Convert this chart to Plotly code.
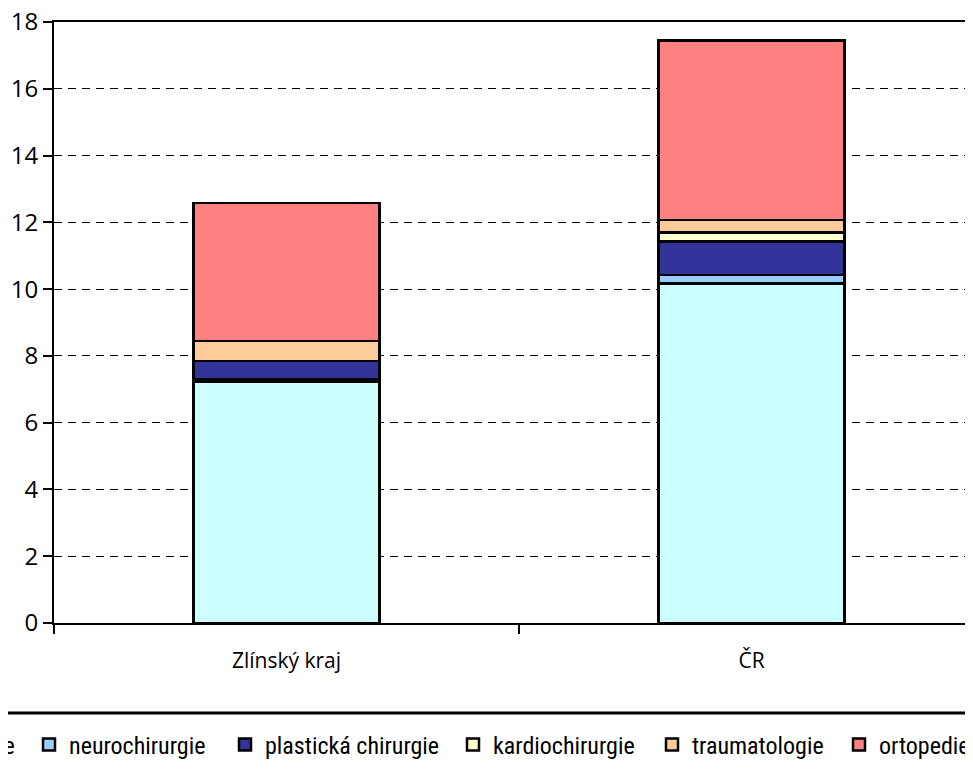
import plotly.graph_objects as go

categories = ["Zlínský kraj", "ČR"]
series_names = ["chirurgie", "neurochirurgie", "plastická chirurgie",
                "kardiochirurgie", "traumatologie", "ortopedie"]
chirurgie = [7.23, 10.17]
neurochirurgie = [0.06, 0.25]
plasticka_chirurgie = [0.56, 1.00]
kardiochirurgie = [0.0, 0.28]
traumatologie = [0.60, 0.37]
ortopedie = [4.13, 5.37]
y_ticks = [0, 2, 4, 6, 8, 10, 12, 14, 16, 18]

values = [chirurgie, neurochirurgie, plasticka_chirurgie,
          kardiochirurgie, traumatologie, ortopedie]
colors = ["#CCFFFF", "#99CCFF", "#333399", "#FFFFCC", "#FFCC99", "#FF8080"]

# page body adds an 8px offset; figure coords = screen coords - OFF
OFF = 8
W, H = 973 - OFF, 771 - OFF
ML, MT = 54 - OFF, 22 - OFF
MB = H - (623 - OFF)
MR = 0
PW = W - ML - MR
PH = H - MT - MB

def px_x(p):
    return (p - OFF - ML) / PW

def px_y(p):
    return 1 - (p - OFF - MT) / PH

# legend item left edges (screen pixels) for each entry
legend_left_px = [-108, 29, 225, 453, 652, 839]
legend_font = dict(family="Liberation Sans Narrow, Arial Narrow, Roboto Condensed, sans-serif",
                   size=24, color="black")

fig = go.Figure()
layout_legends = {}
for i, (name, vals, col) in enumerate(zip(series_names, values, colors)):
    lg = "legend" if i == 0 else f"legend{i+1}"
    fig.add_trace(go.Bar(
        x=categories, y=vals, name=name,
        marker=dict(color=col, line=dict(color="black", width=2.5)),
        legend=lg, hoverinfo="skip",
    ))
    layout_legends[lg] = dict(
        orientation="h", x=px_x(legend_left_px[i]), xanchor="left",
        y=px_y(745), yanchor="middle", font=legend_font,
        bgcolor="rgba(0,0,0,0)", borderwidth=0,
    )

tick_font = dict(family="Open Sans, Noto Sans, sans-serif", size=24, color="black")

fig.update_layout(
    width=W, height=H,
    margin=dict(l=ML, r=MR, t=MT, b=MB, autoexpand=False),
    barmode="stack", bargap=0.6,
    plot_bgcolor="white", paper_bgcolor="white",
    showlegend=True,
    xaxis=dict(
        range=[-0.5, -0.5 + PW / 465.0], tickson="boundaries",
        showline=True, linecolor="black", linewidth=2, mirror=True,
        ticks="outside", ticklen=9, tickwidth=2, tickcolor="black",
        ticklabelstandoff=18, ticklabeloverflow="allow",
        tickfont=dict(family="Open Sans, Noto Sans, sans-serif", size=21, color="black"),
        showgrid=False, fixedrange=True,
    ),
    yaxis=dict(
        range=[0, 18], tickvals=y_ticks,
        showline=True, linecolor="black", linewidth=2,
        ticks="outside", ticklen=9, tickwidth=2, tickcolor="black",
        ticklabeloverflow="allow",
        tickfont=tick_font,
        showgrid=True, gridcolor="black", gridwidth=1, griddash="8px,6px",
        zeroline=False, fixedrange=True,
    ),
    shapes=[dict(type="line", xref="paper", yref="paper",
                 x0=px_x(-5), x1=px_x(985), y0=px_y(713), y1=px_y(713),
                 line=dict(color="black", width=3))],
    **layout_legends,
)

fig.write_html("out.html")
